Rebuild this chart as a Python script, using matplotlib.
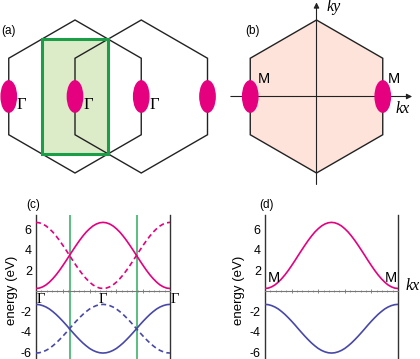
import numpy as np
import matplotlib.pyplot as plt
from matplotlib.patches import Polygon, Ellipse, Rectangle
from matplotlib.ticker import MultipleLocator

plt.rcParams['font.family'] = ['Liberation Sans', 'DejaVu Sans']
plt.rcParams['axes.unicode_minus'] = False

# ---- data -------------------------------------------------------------
# Brillouin zone geometry (hexagon side = 1)
r3 = np.sqrt(3)
hex_a_centers = [(0.0, 0.0), (r3 / 2, 0.0)]
gamma_x = [-r3 / 2, 0.0, r3 / 2, r3]          # pockets in (a)
gamma_labels = ['Γ', 'Γ', 'Γ', '']
m_x = [-r3 / 2, r3 / 2]                        # pockets in (b)
m_labels = ['M', 'M']

# band energies (eV) along the cut, 41 samples from k=0 to k=1
k = np.linspace(0, 1, 41)
upper_solid = [0.20, 0.24, 0.36, 0.55, 0.82, 1.15, 1.53, 1.96, 2.43, 2.92, 3.43,
               3.93, 4.42, 4.89, 5.32, 5.71, 6.03, 6.30, 6.49, 6.61, 6.65,
               6.61, 6.49, 6.30, 6.03, 5.71, 5.32, 4.89, 4.42, 3.93, 3.43,
               2.92, 2.43, 1.96, 1.53, 1.15, 0.82, 0.55, 0.36, 0.24, 0.20]
upper_dashed = [6.65, 6.61, 6.49, 6.30, 6.03, 5.71, 5.32, 4.89, 4.42, 3.93, 3.43,
                2.92, 2.43, 1.96, 1.53, 1.15, 0.82, 0.55, 0.36, 0.24, 0.20,
                0.24, 0.36, 0.55, 0.82, 1.15, 1.53, 1.96, 2.43, 2.92, 3.43,
                3.93, 4.42, 4.89, 5.32, 5.71, 6.03, 6.30, 6.49, 6.61, 6.65]
lower_solid = [-1.35, -1.38, -1.47, -1.61, -1.80, -2.05, -2.33, -2.65, -2.99, -3.35, -3.73,
               -4.10, -4.46, -4.80, -5.12, -5.40, -5.65, -5.84, -5.98, -6.07, -6.10,
               -6.07, -5.98, -5.84, -5.65, -5.40, -5.12, -4.80, -4.46, -4.10, -3.73,
               -3.35, -2.99, -2.65, -2.33, -2.05, -1.80, -1.61, -1.47, -1.38, -1.35]
lower_dashed = [-6.10, -6.07, -5.98, -5.84, -5.65, -5.40, -5.12, -4.80, -4.46, -4.10, -3.73,
                -3.35, -2.99, -2.65, -2.33, -2.05, -1.80, -1.61, -1.47, -1.38, -1.35,
                -1.38, -1.47, -1.61, -1.80, -2.05, -2.33, -2.65, -2.99, -3.35, -3.73,
                -4.10, -4.46, -4.80, -5.12, -5.40, -5.65, -5.84, -5.98, -6.07, -6.10]
crossings = [0.25, 0.75]
ytick_vals = [-6, -4, -2, 2, 4, 6]

PINK = '#e4007f'
BLUE = '#4848a8'
GREEN = '#3db36b'

def hexagon(cx, cy):
    ang = np.radians(90 + 60 * np.arange(6))
    return np.column_stack([cx + np.cos(ang), cy + np.sin(ang)])

fig = plt.figure(figsize=(4.2, 3.59), dpi=100)
W, H, S = 420, 359, 76.5

# ---- (a) --------------------------------------------------------------
ax = fig.add_axes([0, 1 - 192 / H, 215 / W, 192 / H])
ax.set_xlim((0 - 75) / S, (215 - 75) / S)
ax.set_ylim((96.5 - 192) / S, 96.5 / S)
ax.axis('off')
ax.add_patch(Rectangle((-r3 / 4, -0.75), r3 / 2, 1.5, facecolor='#dcebc8',
                       edgecolor='none', zorder=1))
for cx, cy in hex_a_centers:
    ax.add_patch(Polygon(hexagon(cx, cy), closed=True, fill=False,
                         edgecolor='#222222', lw=1.0, zorder=2))
ax.add_patch(Rectangle((-r3 / 4, -0.75), r3 / 2, 1.5, facecolor='none',
                       edgecolor='#1a9e48', lw=2.2, zorder=3))
for gx, lab in zip(gamma_x, gamma_labels):
    ax.add_patch(Ellipse((gx, 0), 0.2, 0.41, color=PINK, zorder=4, clip_on=False))
    if lab:
        ax.text(gx + 0.17, -0.16, lab, family='Liberation Serif', fontsize=12,
                ha='center', va='baseline', zorder=5)

# ---- (b) --------------------------------------------------------------
ax = fig.add_axes([215 / W, 1 - 192 / H, 205 / W, 192 / H])
ax.set_xlim((215 - 316.5) / S, (420 - 316.5) / S)
ax.set_ylim((96.5 - 192) / S, 96.5 / S)
ax.axis('off')
ax.add_patch(Polygon(hexagon(0, 0), closed=True, facecolor='#fde3da',
                     edgecolor='#222222', lw=1.0, zorder=1))
ax.annotate('', xy=(1.25, 0), xytext=(-1.12, 0), zorder=2,
            arrowprops=dict(arrowstyle='-|>', color='#222222', lw=0.8,
                            mutation_scale=8, shrinkA=0, shrinkB=0))
ax.annotate('', xy=(0, 1.23), xytext=(0, -1.15), zorder=2, annotation_clip=False,
            arrowprops=dict(arrowstyle='-|>', color='#222222', lw=0.8,
                            mutation_scale=8, shrinkA=0, shrinkB=0))
for mx in m_x:
    ax.add_patch(Ellipse((mx, 0), 0.2, 0.41, color=PINK, zorder=3))
ax.text(-0.686, 0.17, m_labels[0], fontsize=10.5, ha='center', va='baseline')
ax.text(1.009, 0.17, m_labels[1], fontsize=10.5, ha='center', va='baseline')
ax.text(0.23, 1.118, 'ky', family='Liberation Serif', style='italic',
        fontsize=11.5, ha='center', va='baseline', clip_on=False)
ax.text(1.131, -0.216, 'kx', family='Liberation Serif', style='italic',
        fontsize=11.5, ha='center', va='baseline')

# ---- (c) and (d) ------------------------------------------------------
def band_axes(left, width, label_x):
    ax = fig.add_axes([left / W, 0, width / W, 144 / H])
    ax.set_xlim(0, 1)
    ax.set_ylim(-6.68, 7.37)
    ax.spines['top'].set_visible(False)
    for side in ['left', 'right']:
        ax.spines[side].set_color('#333333')
        ax.spines[side].set_linewidth(1.0)
    ax.spines['bottom'].set_position(('data', 0))
    ax.spines['bottom'].set_color('#777777')
    ax.spines['bottom'].set_linewidth(0.8)
    ax.xaxis.set_major_locator(MultipleLocator(0.2))
    ax.xaxis.set_minor_locator(MultipleLocator(0.04))
    ax.tick_params(axis='x', which='major', direction='inout', length=3,
                   width=0.6, color='#777777', labelbottom=False)
    ax.tick_params(axis='x', which='minor', direction='inout', length=2,
                   width=0.5, color='#777777')
    ax.set_yticks(ytick_vals)
    ax.set_yticklabels([str(v) for v in ytick_vals])
    ax.tick_params(axis='y', length=0, pad=3, labelsize=9)
    ax.set_ylabel('energy (eV)', fontsize=9.5, va='center')
    ax.yaxis.set_label_coords((label_x - left) / width, 0.48)
    ax.patch.set_alpha(0)
    return ax

ax = band_axes(36, 134, 12)
for c in crossings:
    ax.axvline(c, color=GREEN, lw=1.2, zorder=1)
ax.plot(k, upper_solid, color=PINK, lw=1.2, zorder=3)
ax.plot(k, upper_dashed, color=PINK, lw=1.2, ls=(0, (3, 2)), zorder=3)
ax.plot(k, lower_solid, color=BLUE, lw=1.2, zorder=3)
ax.plot(k, lower_dashed, color=BLUE, lw=1.2, ls=(0, (3, 2)), zorder=3)
for gx in [0.037, 0.5, 1.037]:
    ax.text(gx, -0.2, 'Γ', family='Liberation Serif', fontsize=10.5,
            ha='center', va='top', clip_on=False)
fig.text(33 / W, 1 - 205 / H, '(c)', fontsize=8.5, ha='center', va='center')

ax = band_axes(265, 133, 239)
ax.plot(k, upper_solid, color=PINK, lw=1.2, zorder=3)
ax.plot(k, lower_solid, color=BLUE, lw=1.2, zorder=3)
ax.text(0.068, 0.86, 'M', fontsize=10.5, ha='center', va='baseline')
ax.text(0.947, 0.86, 'M', fontsize=10.5, ha='center', va='baseline')
ax.text(1.053, 0.05, 'kx', family='Liberation Serif', style='italic',
        fontsize=11.5, ha='left', va='baseline', clip_on=False)
fig.text(266 / W, 1 - 205 / H, '(d)', fontsize=8.5, ha='center', va='center')

fig.text(8 / W, 1 - 31 / H, '(a)', fontsize=8.5, ha='center', va='center')
fig.text(253 / W, 1 - 31 / H, '(b)', fontsize=8.5, ha='center', va='center')

fig.savefig('out.png', dpi=100)
